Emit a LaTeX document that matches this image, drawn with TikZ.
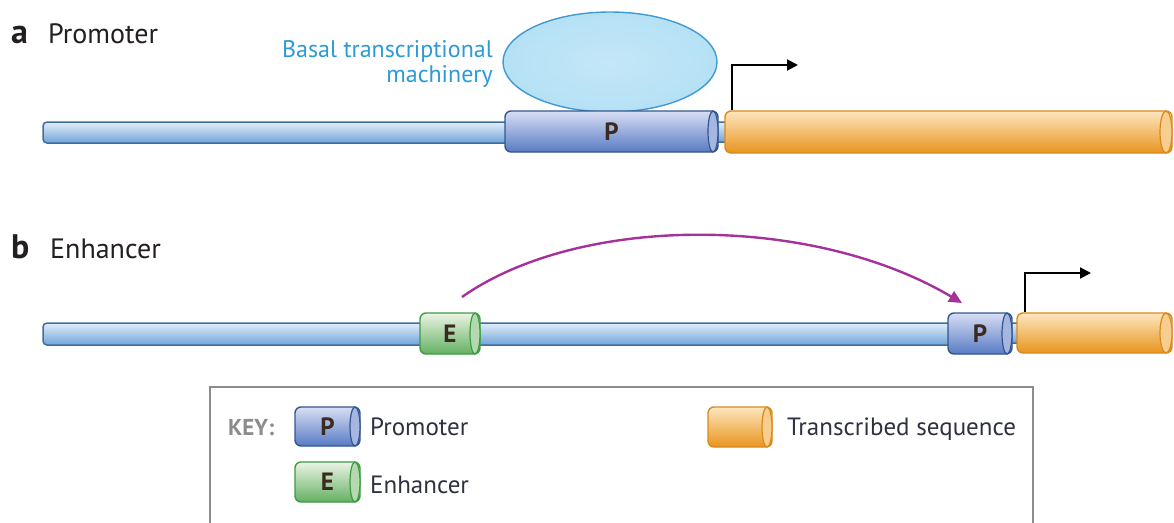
\documentclass[tikz,border=0pt]{standalone}
\usepackage{fontspec}
\setmainfont{PT Sans}
\usetikzlibrary{arrows.meta,calc,shapes.geometric}
\definecolor{rodtop}{HTML}{E2EEFA}
\definecolor{rodbot}{HTML}{6FA3D8}
\definecolor{rodline}{HTML}{3D6E9E}
\definecolor{ptop}{HTML}{D8DEF4}
\definecolor{pbot}{HTML}{587BC4}
\definecolor{pline}{HTML}{34568E}
\definecolor{etop}{HTML}{EAF4E4}
\definecolor{ebot}{HTML}{64B062}
\definecolor{eline}{HTML}{3E9A43}
\definecolor{otop}{HTML}{FDE6BF}
\definecolor{obot}{HTML}{E8951E}
\definecolor{oline}{HTML}{D98A1C}
\definecolor{blobfill}{HTML}{B5E1F5}
\definecolor{blobline}{HTML}{3F9AD4}
\definecolor{bluetext}{HTML}{2C9AD6}
\definecolor{arcpurple}{HTML}{A4329A}
\definecolor{labeltext}{HTML}{231F20}
\definecolor{keytext}{HTML}{2E3142}
\definecolor{keygray}{HTML}{8C8C8C}
\definecolor{letter}{HTML}{3A2A20}
\newcommand{\cylnode}[7]{%
  \pgfmathsetmacro\cylW{#4-#2}\pgfmathsetmacro\cylH{#5-#3}%
  \node[#6, minimum width=\cylW pt, minimum height=\cylH pt, inner sep=0pt] (#1) at ({(#2+#4)/2},{(#3+#5)/2}) {#7};}
\newcommand{\cylcap}[5]{% x of right end, y1, y2, half width, style
  \pgfmathsetmacro\capR{(#3-#2)/2}%
  \draw[#5] ({#1-#4},{(#2+#3)/2}) ellipse [x radius=#4pt, y radius=\capR pt];}
\begin{document}
\begin{tikzpicture}[x=1pt,y=-1pt,
  rod/.style={draw=rodline, line width=1.5pt, rounded corners=4pt, top color=rodtop, bottom color=rodbot},
  pcyl/.style={draw=pline, line width=1.4pt, rounded corners=6pt, top color=ptop, bottom color=pbot, font=\fontsize{25}{28}\selectfont\bfseries\color{letter}},
  ecyl/.style={draw=eline, line width=1.4pt, rounded corners=6pt, top color=etop, bottom color=ebot, font=\fontsize{25}{28}\selectfont\bfseries\color{letter}},
  ocyl/.style={draw=oline, line width=1.4pt, rounded corners=6pt, top color=otop, bottom color=obot},
  pcap/.style={draw=pline, line width=1.2pt, fill=ptop!60!pbot},
  ecap/.style={draw=eline, line width=1.2pt, fill=etop!60!ebot},
  ocap/.style={draw=oline, line width=1.2pt, fill=otop!70!obot},
  head/.style={anchor=base west, font=\fontsize{28}{32}\selectfont, text=labeltext, inner sep=0pt},
  keylab/.style={anchor=base west, font=\fontsize{25}{28}\selectfont, text=keytext, inner sep=0pt},
  tss/.style={draw=black, line width=2pt, -{Triangle[length=11pt,width=11pt]}},
]
\useasboundingbox (0,0) rectangle (1174,522);
% ---------- a : Promoter ----------
\node[head, font=\fontsize{34}{36}\selectfont\bfseries] (la) at (11,43) {a};
\node[head] (ta) at (48,43) {Promoter};
\draw[draw=blobline, line width=1.4pt, inner color=blobfill!80, outer color=blobfill] (610,62) ellipse [x radius=107, y radius=50];
\node[anchor=base east, align=right, font=\fontsize{24}{25}\selectfont, text=bluetext, inner sep=0pt] (btext) at (493,82) {Basal transcriptional\\machinery};
\cylnode{rodA}{43}{122}{510}{143}{rod}{}
\cylnode{linkA}{712}{122}{730}{142}{rod, rounded corners=2pt}{}
\cylnode{pA}{505}{111}{718}{152}{pcyl}{P}
\cylcap{718}{111}{152}{5}{pcap}
\cylnode{orA}{725}{111}{1172}{153}{ocyl}{}
\cylcap{1172}{111}{153}{6}{ocap}
\coordinate (tipA) at (798,65);
\draw[tss] ([xshift=8pt]orA.north west) |- (tipA);
% ---------- b : Enhancer ----------
\node[head, font=\fontsize{34}{36}\selectfont\bfseries] (lb) at (11,258) {b};
\node[head] (tb) at (50,258) {Enhancer};
\cylnode{rodB}{43}{323}{952}{345}{rod}{}
\cylnode{linkB}{1006}{323}{1022}{343}{rod, rounded corners=2pt}{}
\cylnode{eB}{420}{313}{480}{354}{ecyl}{E}
\cylcap{480}{313}{354}{5}{ecap}
\cylnode{pB}{948}{313}{1012}{354}{pcyl}{P}
\cylcap{1012}{313}{354}{5}{pcap}
\cylnode{orB}{1017}{313}{1172}{353}{ocyl}{}
\cylcap{1172}{313}{353}{6}{ocap}
\coordinate (tipB) at (1091,273);
\draw[tss] ([xshift=9pt]orB.north west) |- (tipB);
\coordinate (arcS) at (462,297);
\coordinate (arcE) at (962,303);
\draw[draw=arcpurple, line width=2.4pt, -{Triangle[length=13pt,width=12pt]}] (arcS) .. controls (580,214) and (812,214) .. (arcE);
% ---------- key ----------
\draw[draw=keygray, line width=2pt] (210,523) -- (210,387) -- (1033,387) -- (1033,523);
\node[anchor=base west, font=\fontsize{23}{26}\selectfont\bfseries, text=keygray, inner sep=0pt] (keyw) at (228,435) {KEY:};
\cylnode{kP}{295}{407}{360}{446}{pcyl}{P}
\cylcap{360}{407}{446}{5}{pcap}
\node[keylab] (kPt) at (370,435) {Promoter};
\cylnode{kE}{295}{462}{360}{502}{ecyl}{E}
\cylcap{360}{462}{502}{5}{ecap}
\node[keylab] (kEt) at (370,493) {Enhancer};
\cylnode{kO}{708}{407}{772}{447}{ocyl}{}
\cylcap{772}{407}{447}{5}{ocap}
\node[keylab] (kOt) at (787,435) {Transcribed sequence};
\end{tikzpicture}
\end{document}
